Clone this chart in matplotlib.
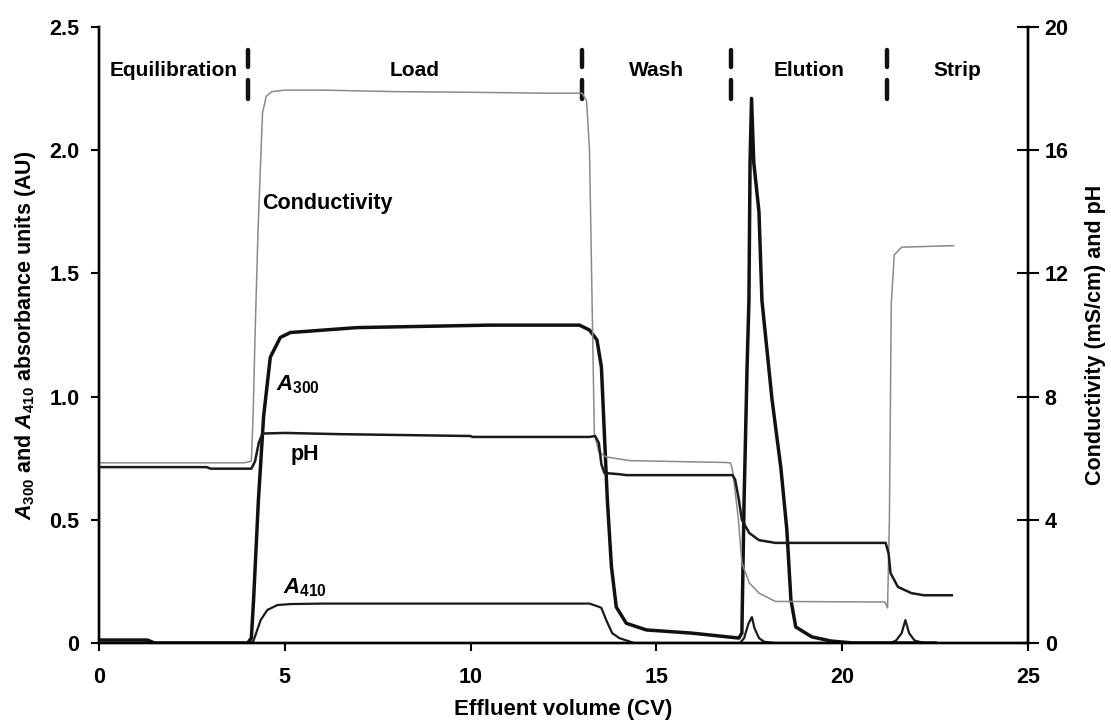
import numpy as np
import matplotlib.pyplot as plt

plt.rcParams['font.family'] = ['Liberation Sans', 'DejaVu Sans']
plt.rcParams['font.weight'] = 'bold'
plt.rcParams['font.size'] = 15
plt.rcParams['mathtext.fontset'] = 'custom'
plt.rcParams['mathtext.rm'] = 'Liberation Sans:bold'
plt.rcParams['mathtext.it'] = 'Liberation Sans:italic:bold'
plt.rcParams['mathtext.bf'] = 'Liberation Sans:bold'

# phases (CV)
phase_edges = [0, 4.0, 13.0, 17.0, 21.2, 25]
phase_names = ['Equilibration', 'Load', 'Wash', 'Elution', 'Strip']

# conductivity (mS/cm), right axis
cond_x = [0, 3.9, 4.1, 4.15, 4.2, 4.28, 4.4, 4.5, 4.65, 5.0, 6.0, 8.0, 10.0, 12.0, 13.0,
          13.12, 13.2, 13.27, 13.33, 13.45, 13.65, 14.3, 16.9, 17.0, 17.05, 17.2, 17.3,
          17.5, 17.76, 18.2, 21.15, 21.22, 21.27, 21.32, 21.4, 21.6, 23.0]
cond_y = [5.85, 5.85, 5.9, 7.5, 10.0, 13.4, 17.2, 17.75, 17.9, 17.95, 17.95, 17.9, 17.88,
          17.85, 17.85, 17.6, 16.0, 11.0, 6.8, 6.2, 6.04, 5.92, 5.86, 5.84, 5.6, 4.1, 2.6,
          1.95, 1.62, 1.35, 1.33, 1.14, 4.0, 11.0, 12.6, 12.85, 12.9]

# pH, right axis
ph_x = [0, 2.9, 3.0, 4.1, 4.2, 4.3, 4.4, 5.0, 6.5, 10.0, 10.05, 13.2, 13.35, 13.45, 13.52,
        13.6, 14.0, 14.2, 17.05, 17.12, 17.22, 17.3, 17.5, 17.76, 18.2, 21.17, 21.25, 21.3,
        21.5, 21.86, 22.2, 22.95]
ph_y = [5.71, 5.71, 5.66, 5.66, 5.9, 6.5, 6.8, 6.82, 6.78, 6.72, 6.69, 6.69, 6.72, 6.5, 5.8,
        5.52, 5.48, 5.45, 5.45, 5.3, 4.64, 4.0, 3.57, 3.34, 3.25, 3.25, 2.9, 2.27, 1.82, 1.62,
        1.55, 1.55]

# A300 (AU), left axis
a300_x = [0, 1.3, 1.5, 4.0, 4.1, 4.16, 4.29, 4.43, 4.61, 4.88, 5.15, 6.95, 10.5, 12.93,
          13.2, 13.4, 13.52, 13.6, 13.68, 13.79, 13.92, 14.19, 14.73, 15.96, 17.22, 17.3,
          17.36, 17.44, 17.49, 17.52, 17.56, 17.62, 17.76, 17.84, 18.11, 18.35, 18.51,
          18.62, 18.75, 19.18, 19.7, 20.3, 22.5]
a300_y = [0.012, 0.012, 0.0, 0.0, 0.02, 0.175, 0.58, 0.92, 1.16, 1.24, 1.26, 1.28, 1.29,
          1.29, 1.27, 1.23, 1.12, 0.85, 0.58, 0.31, 0.146, 0.08, 0.053, 0.04, 0.02, 0.04,
          0.58, 1.12, 1.39, 1.95, 2.21, 1.95, 1.75, 1.39, 0.99, 0.71, 0.46, 0.175, 0.065,
          0.025, 0.008, 0.0, 0.0]

# A410 (AU), left axis
a410_x = [0, 4.1, 4.16, 4.35, 4.53, 4.8, 5.15, 6.04, 13.2, 13.47, 13.52, 13.65, 13.81,
          14.0, 14.4, 17.25, 17.36, 17.48, 17.57, 17.64, 17.76, 17.9, 18.2, 21.3, 21.45,
          21.6, 21.7, 21.8, 21.95, 22.2]
a410_y = [0.0, 0.0, 0.01, 0.093, 0.134, 0.154, 0.158, 0.16, 0.16, 0.146, 0.142, 0.093,
          0.04, 0.02, 0.0, 0.0, 0.02, 0.08, 0.105, 0.06, 0.02, 0.005, 0.0, 0.0, 0.01, 0.04,
          0.093, 0.04, 0.01, 0.0]

fig = plt.figure(figsize=(11.11, 7.25), dpi=100)
ax = fig.add_axes([0.0891, 0.1131, 0.8362, 0.8497])
ax2 = ax.twinx()

ax2.plot(cond_x, cond_y, color='#8a8a8a', lw=1.1)
ax2.plot(ph_x, ph_y, color='#1a1a1a', lw=1.8)
ax.plot(a410_x, a410_y, color='#1a1a1a', lw=1.6)
ax.plot(a300_x, a300_y, color='#111111', lw=2.5)

ax.set_xlim(0, 25)
ax.set_ylim(0, 2.5)
ax2.set_ylim(0, 20)
ax.set_xticks([0, 5, 10, 15, 20, 25])
ax.set_yticks([0, 0.5, 1.0, 1.5, 2.0, 2.5])
ax.set_yticklabels(['0', '0.5', '1.0', '1.5', '2.0', '2.5'])
ax2.set_yticks([0, 4, 8, 12, 16, 20])

for a in (ax, ax2):
    a.spines['top'].set_visible(False)
    for s in a.spines.values():
        s.set_linewidth(1.7)
ax.tick_params(axis='y', direction='out', length=6, width=1.5, labelsize=15.5, pad=8)
ax.tick_params(axis='x', direction='out', length=6, width=1.5, labelsize=15.5, pad=11)
ax2.tick_params(axis='y', direction='inout', length=16, width=1.5, labelsize=15.5, pad=4)

ax.set_xlabel('Effluent volume (CV)', fontsize=16, fontweight='bold', labelpad=8)
ax.set_ylabel(r'$A_{300}$ and $A_{410}$ absorbance units (AU)', fontsize=15.5,
              fontweight='bold', labelpad=8)
ax2.set_ylabel('Conductivity (mS/cm) and pH', fontsize=15.5, fontweight='bold', labelpad=12)

# phase dividers and labels
for xb in phase_edges[1:-1]:
    ax.axvline(xb, ymin=0.935, ymax=0.963, color='#111111', lw=3.2, solid_capstyle='round')
    ax.axvline(xb, ymin=0.883, ymax=0.914, color='#111111', lw=3.2, solid_capstyle='round')
for i, name in enumerate(phase_names):
    mid = (phase_edges[i] + phase_edges[i + 1]) / 2
    ax.text(mid, 2.325, name, ha='center', va='center', fontsize=15, fontweight='bold')

ax.text(4.4, 1.785, 'Conductivity', ha='left', va='center', fontsize=15.5, fontweight='bold')
ax.text(4.75, 1.05, r'$A_{300}$', ha='left', va='center', fontsize=16)
ax.text(5.15, 0.767, 'pH', ha='left', va='center', fontsize=15.5, fontweight='bold')
ax.text(4.94, 0.225, r'$A_{410}$', ha='left', va='center', fontsize=16)

fig.savefig('out.png', dpi=100)
